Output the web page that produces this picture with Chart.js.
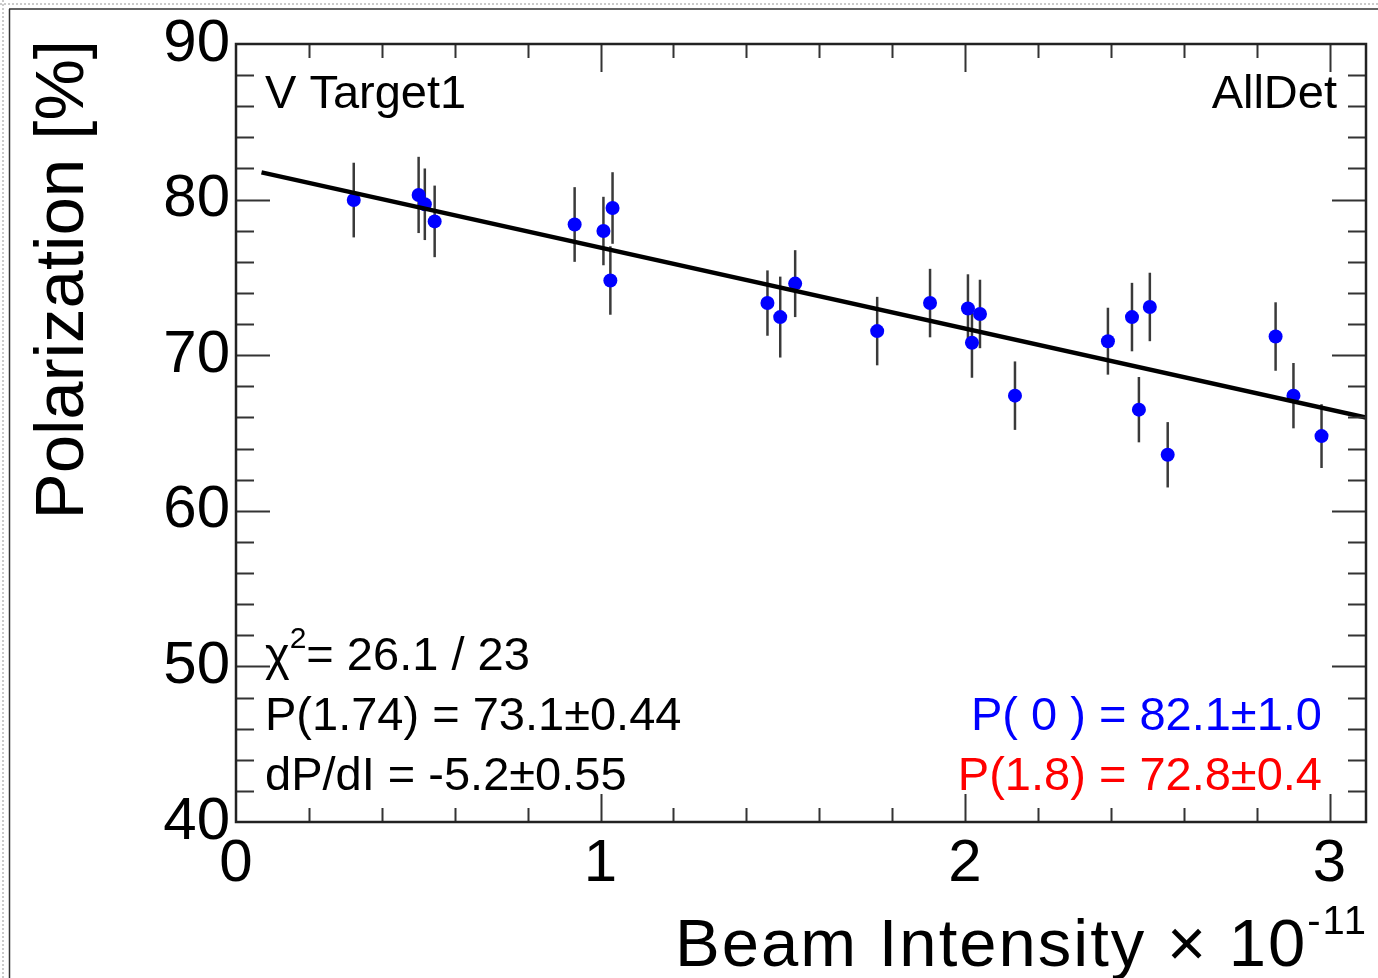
<!DOCTYPE html>
<html>
<head>
<meta charset="utf-8">
<script src="https://cdn.jsdelivr.net/npm/chart.js@4.4.1/dist/chart.umd.min.js"></script>
<style>
  html, body { margin: 0; padding: 0; background: #fff; }
  canvas { display: block; }
</style>
</head>
<body>
<canvas id="polar" width="1378" height="978"></canvas>
<script>
// beam intensity (x 10^-11) and polarization [%]
const intensity = [0.323, 0.501, 0.518, 0.545, 0.929, 1.008, 1.033, 1.027, 1.458, 1.493, 1.534, 1.759, 1.904,
                   2.008, 2.041, 2.019, 2.137, 2.392, 2.458, 2.507, 2.477, 2.556, 2.852, 2.901, 2.978];
const polarization = [79.97, 80.3, 79.7, 78.6, 78.4, 77.98, 79.46, 74.8, 73.35, 72.45, 74.6, 71.55, 73.35,
                      73.0, 72.65, 70.8, 67.4, 70.9, 72.45, 73.1, 66.5, 63.6, 71.2, 67.4, 64.8];
const polError = [2.4, 2.45, 2.3, 2.3, 2.4, 2.2, 2.3, 2.2, 2.1, 2.6, 2.15, 2.2, 2.2,
                  2.2, 2.2, 2.25, 2.2, 2.15, 2.2, 2.2, 2.1, 2.1, 2.2, 2.1, 2.05];

// fit line end points
const fitX = [0.07, 3.1];
const fitY = [81.75, 66.0];

const xTicks = [0, 1, 2, 3];
const yTicks = [40, 50, 60, 70, 80, 90];

const fitStats = ['= 26.1 / 23', 'P(1.74) = 73.1\u00b10.44', 'dP/dI = -5.2\u00b10.55'];
const pZero = 'P( 0 ) = 82.1\u00b11.0';
const pRef = 'P(1.8) = 72.8\u00b10.4';

const FONT = '"Liberation Sans", Arial, Helvetica, sans-serif';

const rootFrame = {
  id: 'rootFrame',
  beforeDatasetsDraw(chart) {
    const ctx = chart.ctx, xs = chart.scales.x, ys = chart.scales.y;
    ctx.save();
    ctx.strokeStyle = '#3a3a3a';
    ctx.lineWidth = 2.5;
    for (let i = 0; i < intensity.length; i++) {
      const px = xs.getPixelForValue(intensity[i]);
      ctx.beginPath();
      ctx.moveTo(px, ys.getPixelForValue(polarization[i] - polError[i]));
      ctx.lineTo(px, ys.getPixelForValue(polarization[i] + polError[i]));
      ctx.stroke();
    }
    ctx.restore();
  },
  afterDraw(chart) {
    const ctx = chart.ctx, xs = chart.scales.x, ys = chart.scales.y;
    const a = chart.chartArea;
    ctx.save();

    // ticks on all four sides, pointing inward
    ctx.strokeStyle = '#333';
    ctx.lineWidth = 2;
    ctx.beginPath();
    for (let v = ys.min + 2; v < ys.max - 0.01; v += 2) {
      const py = Math.round(ys.getPixelForValue(v)) + 0.5;
      const len = Math.abs(v % 10) < 0.01 ? 34 : 18;
      ctx.moveTo(a.left, py); ctx.lineTo(a.left + len, py);
      ctx.moveTo(a.right, py); ctx.lineTo(a.right - len, py);
    }
    for (let k = 1; k * 0.2 < xs.max - 0.01; k++) {
      const v = k * 0.2;
      const px = Math.round(xs.getPixelForValue(v)) + 0.5;
      const len = k % 5 === 0 ? 28 : 14;
      ctx.moveTo(px, a.bottom); ctx.lineTo(px, a.bottom - len);
      ctx.moveTo(px, a.top); ctx.lineTo(px, a.top + len);
    }
    ctx.stroke();

    // frame
    ctx.strokeStyle = '#222';
    ctx.lineWidth = 2.5;
    ctx.strokeRect(a.left, a.top, a.right - a.left, a.bottom - a.top);

    // labels inside the frame
    ctx.fillStyle = '#000';
    ctx.textBaseline = 'alphabetic';
    ctx.font = '47px ' + FONT;
    ctx.textAlign = 'left';
    ctx.fillText('V Target1', 265, 108);
    ctx.textAlign = 'right';
    ctx.fillText('AllDet', 1337, 108);

    ctx.textAlign = 'left';
    ctx.fillText('\u03c7', 265, 670);
    let w = ctx.measureText('\u03c7').width;
    ctx.font = '30px ' + FONT;
    ctx.fillText('2', 265 + w, 648);
    w += ctx.measureText('2').width;
    ctx.font = '47px ' + FONT;
    ctx.fillText(fitStats[0], 265 + w, 670);
    ctx.fillText(fitStats[1], 265, 730);
    ctx.fillText(fitStats[2], 265, 790);

    ctx.textAlign = 'right';
    ctx.fillStyle = '#0000ff';
    ctx.fillText(pZero, 1322, 730);
    ctx.fillStyle = '#ff0000';
    ctx.fillText(pRef, 1322, 790);

    // axis titles
    ctx.fillStyle = '#000';
    ctx.textAlign = 'left';
    ctx.letterSpacing = '2px';
    ctx.font = '67px ' + FONT;
    const main = 'Beam Intensity \u00d7 10';
    const mw = ctx.measureText(main).width;
    ctx.font = '40px ' + FONT;
    const sup = '-11';
    const sw = ctx.measureText(sup).width;
    const x0 = 1368 - mw - sw;
    ctx.font = '67px ' + FONT;
    ctx.fillText(main, x0, 966);
    ctx.font = '40px ' + FONT;
    ctx.fillText(sup, x0 + mw, 934);
    ctx.letterSpacing = '0px';

    ctx.translate(83, 40);
    ctx.rotate(-Math.PI / 2);
    ctx.textAlign = 'right';
    ctx.font = '69px ' + FONT;
    ctx.fillText('Polarization [%]', 0, 0);
    ctx.restore();

    // page border of the screenshot
    ctx.save();
    ctx.strokeStyle = '#333';
    ctx.lineWidth = 1.5;
    ctx.beginPath();
    ctx.moveTo(9.5, 9); ctx.lineTo(9.5, chart.height);
    ctx.moveTo(9, 9); ctx.lineTo(chart.width, 9);
    ctx.stroke();
    ctx.setLineDash([2, 2]);
    ctx.strokeStyle = '#bbb';
    ctx.lineWidth = 1.5;
    ctx.beginPath();
    ctx.moveTo(3, 0); ctx.lineTo(3, chart.height);
    ctx.moveTo(0, 4); ctx.lineTo(chart.width, 4);
    ctx.stroke();
    ctx.restore();
  }
};

const ctx = document.getElementById('polar').getContext('2d');
new Chart(ctx, {
  type: 'scatter',
  data: {
    datasets: [
      {
        type: 'line',
        label: 'fit',
        data: fitX.map((x, i) => ({ x: x, y: fitY[i] })),
        borderColor: '#000',
        borderWidth: 4.5,
        pointRadius: 0,
        fill: false,
        order: 0
      },
      {
        label: 'data',
        data: intensity.map((x, i) => ({ x: x, y: polarization[i] })),
        backgroundColor: '#0000ff',
        borderWidth: 0,
        pointRadius: 7,
        order: 1
      }
    ]
  },
  options: {
    responsive: false,
    animation: false,
    layout: { padding: { top: 44, right: 12, left: 0, bottom: 0 } },
    plugins: { legend: { display: false }, tooltip: { enabled: false } },
    scales: {
      x: {
        type: 'linear',
        min: 0,
        max: 3.1,
        afterFit(scale) { scale.height = 156; },
        afterBuildTicks(scale) { scale.ticks = xTicks.map(v => ({ value: v })); },
        grid: { display: false, drawTicks: false },
        border: { display: false },
        ticks: { color: '#000', padding: 6, font: { size: 60, family: FONT }, maxRotation: 0 }
      },
      y: {
        type: 'linear',
        min: 40,
        max: 90,
        afterFit(scale) { scale.width = 236; },
        afterBuildTicks(scale) { scale.ticks = yTicks.map(v => ({ value: v })); },
        grid: { display: false, drawTicks: false },
        border: { display: false },
        ticks: { color: '#000', padding: 6, font: { size: 60, family: FONT } }
      }
    }
  },
  plugins: [rootFrame]
});
</script>
</body>
</html>
